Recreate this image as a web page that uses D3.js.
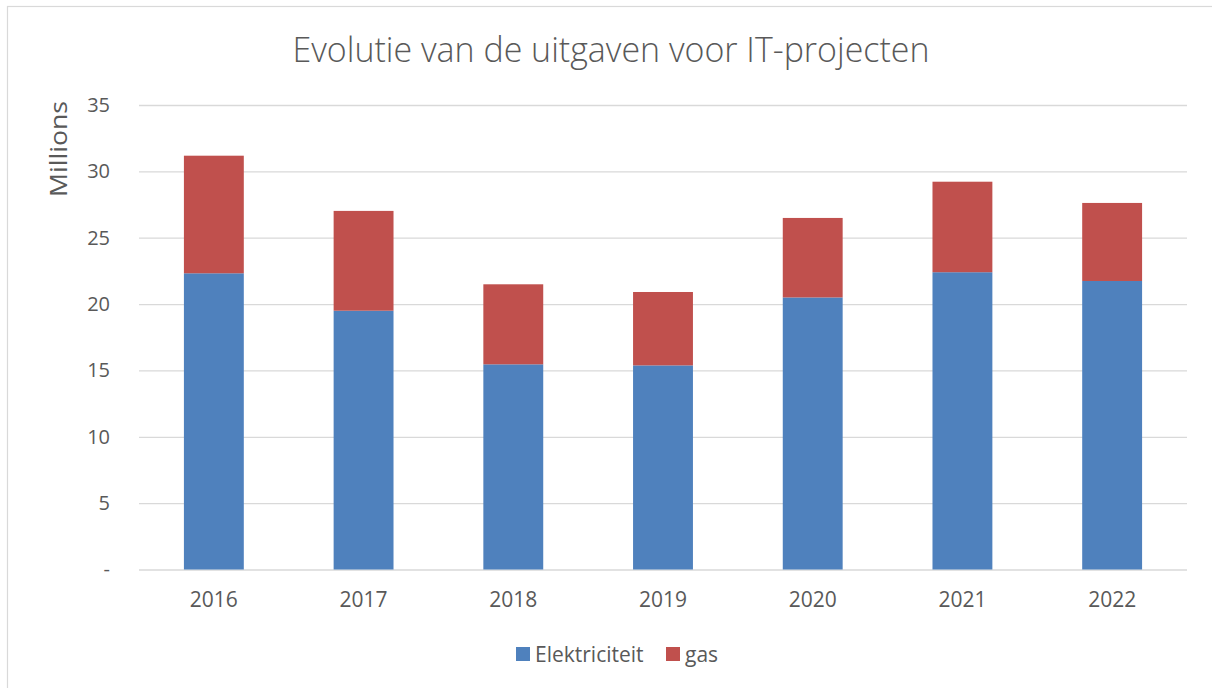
<!DOCTYPE html>
<html>
<head>
<meta charset="utf-8">
<script src="https://cdn.jsdelivr.net/npm/d3@7"></script>
<style>
  body { margin: 0; background: #fff; }
  text { font-family: "Open Sans", "Noto Sans", sans-serif; fill: #595959; }
</style>
</head>
<body>
<div id="chart"></div>
<script>
// data (millions)
const years = ['2016', '2017', '2018', '2019', '2020', '2021', '2022'];
const elektriciteit = [22.32, 19.50, 15.46, 15.38, 20.50, 22.40, 21.74];
const gas = [8.86, 7.52, 6.03, 5.53, 5.99, 6.82, 5.88];
const seriesNames = ['Elektriciteit', 'gas'];
const seriesColors = ['#4F81BD', '#C0504D'];
const yTicks = [0, 5, 10, 15, 20, 25, 30, 35];

// chart setup
const W = 1212, H = 688;
const margin = { top: 105, right: 25, bottom: 118.5, left: 139 };
const width = W - margin.left - margin.right;
const height = H - margin.top - margin.bottom;

const svg = d3.select('#chart').append('svg')
  .attr('width', W)
  .attr('height', H);

// chart frame (only left and top edges are visible in the picture)
svg.append('rect')
  .attr('x', 7.5).attr('y', 6.5)
  .attr('width', W + 20).attr('height', H + 20)
  .attr('fill', 'none')
  .attr('stroke', '#d9d9d9')
  .attr('stroke-width', 1.2);

const g = svg.append('g').attr('transform', `translate(${margin.left},${margin.top})`);

const x = d3.scaleBand().domain(years).range([0, width]).paddingInner(0.6).paddingOuter(0.3);
const y = d3.scaleLinear().domain([0, 35]).range([height, 0]);

const rows = years.map((yr, i) => ({ year: yr, Elektriciteit: elektriciteit[i], gas: gas[i] }));
const stacked = d3.stack().keys(seriesNames)(rows);

// gridlines
g.append('g')
  .attr('class', 'grid')
  .call(d3.axisLeft(y).tickValues(yTicks).tickSize(-width).tickFormat(''))
  .call(s => s.select('.domain').remove())
  .selectAll('line')
  .attr('stroke', '#d9d9d9')
  .attr('stroke-width', 1.3);

// y tick labels
g.append('g')
  .call(d3.axisLeft(y).tickValues(yTicks).tickSize(0).tickPadding(29)
    .tickFormat(d => d === 0 ? '-' : d))
  .call(s => s.select('.domain').remove())
  .selectAll('text')
  .style('font-size', '20px')
  .attr('fill', '#595959');

// bars
g.selectAll('.series')
  .data(stacked)
  .enter().append('g')
  .attr('class', 'series')
  .attr('fill', (d, i) => seriesColors[i])
  .selectAll('rect')
  .data(d => d)
  .enter().append('rect')
  .attr('x', d => x(d.data.year))
  .attr('y', d => y(d[1]))
  .attr('width', x.bandwidth())
  .attr('height', d => y(d[0]) - y(d[1]));

// x labels
g.append('g')
  .attr('transform', `translate(0,${height})`)
  .call(d3.axisBottom(x).tickSize(0).tickPadding(23))
  .call(s => s.select('.domain').remove())
  .selectAll('text')
  .style('font-size', '21px')
  .attr('fill', '#595959');

// title
svg.append('text')
  .attr('x', 611)
  .attr('y', 62)
  .attr('text-anchor', 'middle')
  .style('font-size', '34px')
  .style('font-weight', 300)
  .attr('textLength', 637)
  .attr('lengthAdjust', 'spacingAndGlyphs')
  .text('Evolutie van de uitgaven voor IT-projecten');

// y axis title
svg.append('text')
  .attr('transform', 'translate(67,149) rotate(-90)')
  .attr('text-anchor', 'middle')
  .style('font-size', '24px')
  .attr('textLength', 96)
  .attr('lengthAdjust', 'spacingAndGlyphs')
  .text('Millions');

// legend
const legend = svg.append('g').attr('class', 'legend');
const legendX = [516, 666];
seriesNames.forEach((name, i) => {
  legend.append('rect')
    .attr('x', legendX[i]).attr('y', 647)
    .attr('width', 14).attr('height', 14)
    .attr('fill', seriesColors[i]);
  legend.append('text')
    .attr('x', legendX[i] + 19).attr('y', 662)
    .style('font-size', '21px')
    .text(name);
});
</script>
</body>
</html>
